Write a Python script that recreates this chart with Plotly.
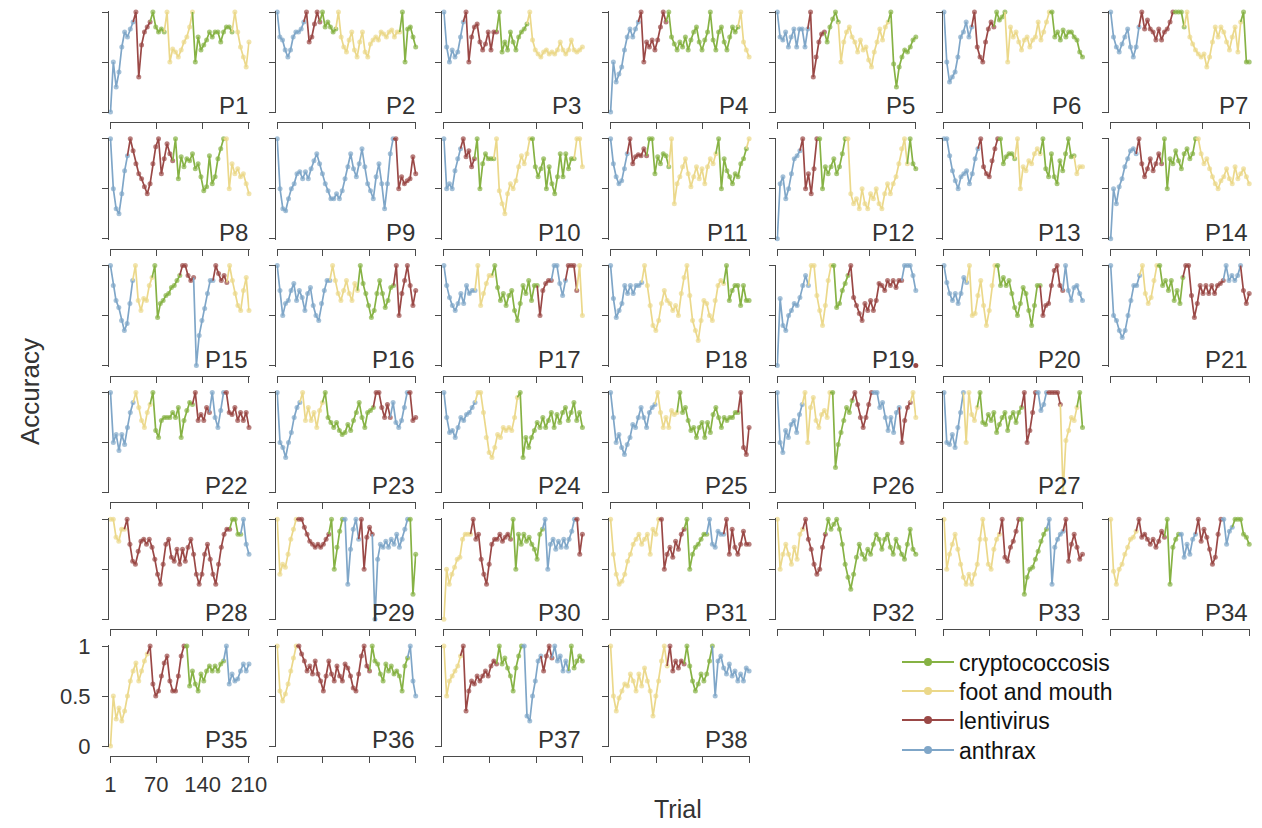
import numpy as np
import plotly.graph_objects as go

W, H = 1262, 828
TRIAL_MIN, TRIAL_MAX = 1, 210
x_tickvals = [1, 70, 140, 210]
x_ticktext = ["1", "70", "140", "210"]
y_tickvals = [0, 0.5, 1]
y_ticktext = ["0", "0.5", "1"]

disease_names = {"C": "cryptococcosis", "F": "foot and mouth", "L": "lentivirus", "A": "anthrax"}
disease_colors = {"C": "#86b244", "F": "#ebd88a", "L": "#9a4846", "A": "#7fa6c8"}
legend_order = ["C", "F", "L", "A"]

# accuracy values in percent, per participant, as consecutive (disease, values) segments
p1 = [("A", [0, 50, 25, 40, 65, 80, 75, 83, 90]), ("L", [100, 35, 67, 80, 85, 90]), ("C", [100, 85, 80, 83, 80]), ("F", [100, 50, 63, 60, 55, 62, 70, 75, 85, 100]), ("C", [50, 75, 62, 67, 72, 80, 75, 80, 80, 70, 80, 85, 85, 80]), ("F", [100, 80, 65, 55, 45, 70])]
p2 = [("A", [100, 75, 72, 62, 55, 62, 75, 80, 80, 83, 90]), ("L", [100, 70, 75, 88, 100, 90]), ("C", [100, 85, 90, 85, 80, 83]), ("F", [100, 75, 65, 60, 72, 80, 62, 55, 70, 80, 60, 55, 68, 72, 75, 72, 80, 78, 75, 80, 82, 75, 80, 80]), ("C", [100, 50, 83, 85, 75, 65])]
p3 = [("A", [100, 65, 50, 62, 55, 60, 75, 90]), ("L", [100, 50, 75, 85, 88, 70, 62, 68, 80, 62, 80, 80]), ("C", [100, 60, 70, 62, 80, 70, 62, 75, 80, 83, 88]), ("F", [100, 72, 62, 58, 55, 60, 62, 58, 60, 58, 62, 70, 62, 58, 62, 72, 62, 60, 62, 65])]
p4 = [("A", [0, 50, 30, 38, 45, 62, 75, 83, 75, 83, 90]), ("L", [100, 50, 70, 65, 72, 62, 72, 85, 100, 90]), ("C", [100, 75, 68, 62, 70, 65, 75, 62, 72, 80, 85, 70, 62, 72, 80, 100, 72, 62, 80, 85, 70, 62, 75, 85, 80, 85]), ("F", [100, 70, 62, 55])]
p5 = [("A", [100, 75, 72, 80, 65, 75, 83, 65, 83, 83, 65, 83]), ("L", [100, 35, 55, 70, 78, 80]), ("C", [70, 85, 93, 100, 90]), ("F", [50, 70, 80, 85, 75, 70, 60, 72, 62, 65, 52, 45, 60, 70, 83, 72, 85, 90]), ("C", [100, 48, 25, 45, 55, 62, 60, 65, 72, 75])]
p6 = [("A", [100, 50, 30, 35, 40, 55, 75, 80, 90, 75, 85]), ("L", [100, 65, 55, 50, 70, 83, 90, 85]), ("C", [100, 92, 95, 100]), ("F", [50, 85, 75, 80, 70, 62, 72, 75, 65, 72, 75, 90, 72, 80, 90, 100]), ("C", [100, 75, 80, 72, 82, 75, 80, 80, 75, 72, 60, 55])]
p7 = [("A", [100, 75, 65, 60, 68, 75, 83, 65, 55, 65, 85]), ("L", [100, 83, 92, 83, 80, 72, 83, 72, 80, 83, 90, 100]), ("C", [100, 100, 100, 85]), ("F", [100, 75, 68, 62, 58, 55, 58, 45, 55, 70, 85, 75, 85, 80, 70, 62, 75, 85, 60, 90]), ("C", [100, 50, 50])]
p8 = [("A", [100, 50, 30, 25, 45, 68, 83]), ("L", [100, 88, 75, 65, 60, 52, 45, 55, 75, 92, 100, 65, 80, 95, 85, 78]), ("C", [100, 60, 82, 72, 80, 78, 85, 70, 75, 62, 48, 52, 83, 55, 62, 80, 90, 100]), ("F", [100, 50, 75, 65, 70, 62, 65, 55, 45])]
p9 = [("A", [100, 50, 30, 28, 40, 50, 55, 65, 67, 60, 67, 60, 70, 78, 85, 75, 65, 55, 48, 40, 40, 45, 40, 48, 60, 72, 85, 70, 62, 75, 90, 72, 55, 48, 40, 62, 75, 55, 30, 55, 85, 100]), ("L", [100, 50, 62, 55, 58, 60, 82, 65])]
p10 = [("A", [100, 50, 55, 50, 68, 80, 90]), ("L", [100, 82, 88, 72, 80]), ("C", [100, 50, 75, 85, 80, 80, 80]), ("F", [100, 48, 35, 25, 45, 55, 50, 58, 72, 83, 75, 85, 100]), ("C", [100, 72, 62, 70, 80, 50, 72, 55, 45, 62, 85, 62, 85, 70, 80, 80]), ("F", [100, 100, 72])]
p11 = [("A", [100, 75, 62, 55, 58, 70, 85]), ("L", [100, 75, 82, 84, 83, 90, 83]), ("C", [100, 100, 65, 82, 75, 85, 83, 72]), ("F", [100, 35, 55, 62, 72, 80, 65, 52, 62, 72, 60, 70, 55, 72, 80, 75, 85]), ("C", [100, 50, 80, 68, 62, 55, 65, 62, 75, 80, 90]), ("F", [100])]
p12 = [("A", [0, 55, 62, 40, 50, 65, 80, 83, 88]), ("L", [100, 50, 65, 45, 70, 100]), ("C", [100, 50, 72, 65, 72, 80, 65, 72, 85, 100]), ("F", [100, 45, 35, 40, 30, 50, 35, 30, 45, 40, 50, 35, 30, 45, 55, 45, 55, 62, 75, 90, 100, 75]), ("C", [100, 75, 70])]
p13 = [("A", [100, 100, 83, 68, 58, 50, 62, 65, 68, 55, 65, 80, 90]), ("L", [100, 72, 65, 62, 78, 90, 100]), ("C", [100, 75, 82, 85, 85, 80]), ("F", [100, 50, 72, 68, 78, 75, 85, 90, 85]), ("C", [100, 70, 62, 85, 62, 55, 78, 68, 85, 100, 82, 83]), ("F", [65, 72, 72])]
p14 = [("A", [0, 50, 35, 52, 60, 72, 80, 88, 90, 85]), ("L", [100, 75, 62, 70, 80, 68, 75, 85, 75]), ("C", [100, 50, 80, 75, 88, 78, 70, 85, 90, 80, 85, 100]), ("F", [100, 85, 75, 80, 70, 62, 55, 50, 58, 62, 70, 60, 55, 72, 60, 65, 70, 62, 55])]
p15 = [("A", [100, 80, 65, 58, 45, 35, 42, 62, 85]), ("F", [100, 65, 55, 67, 65, 80, 88]), ("C", [100, 48, 62, 65, 70, 72, 78, 80, 85, 90]), ("L", [100, 100, 90, 85, 88]), ("A", [0, 30, 45, 57, 72, 85, 85]), ("L", [100, 92, 85, 90, 83]), ("F", [100, 85, 72, 60, 55, 75, 88, 55])]
p16 = [("A", [100, 75, 50, 62, 65, 75, 82, 65, 75, 68, 55, 72, 78, 60, 50, 45, 62, 75, 85, 85]), ("F", [100, 85, 72, 65, 75, 85, 72, 65, 82, 75]), ("C", [100, 82, 72, 60, 48, 55, 72, 85, 72, 58, 65, 78, 80]), ("L", [100, 50, 72, 85, 100, 80, 60, 75])]
p17 = [("A", [100, 80, 68, 60, 55, 62, 72, 62, 80, 72, 75, 75]), ("F", [100, 60, 72, 82, 90, 90]), ("C", [100, 78, 65, 72, 60, 70, 75, 55, 45, 62, 80, 72, 85, 65, 80, 80]), ("L", [50, 75, 82, 85, 85]), ("A", [100, 100, 82, 70, 85]), ("L", [100, 100, 100, 75]), ("F", [100, 50])]
p18 = [("A", [100, 67, 48, 55, 62, 80, 72, 80, 72, 80, 80, 83]), ("F", [100, 80, 60, 40, 35, 45, 62, 75, 65, 62, 55, 60, 50, 72, 88, 100, 70, 45, 35, 25, 45, 65, 62, 50, 45, 65, 80, 85, 82]), ("C", [100, 65, 75, 80, 80, 60, 80, 65, 65])]
p19 = [("A", [0, 67, 40, 35, 50, 55, 62, 60, 68, 80, 90, 80]), ("F", [100, 100, 70, 55, 40, 60, 85, 100]), ("C", [100, 58, 62, 75, 82, 90]), ("L", [100, 68, 60, 52, 45, 62, 55, 65, 55, 65, 82, 80, 75, 85, 80, 85, 78, 85, 85]), ("A", [100, 100, 100, 90, 75])]
p20 = [("A", [100, 83, 72, 65, 72, 62, 72, 88, 83]), ("F", [100, 50, 52, 70, 85, 60, 40, 55, 80, 100]), ("C", [100, 80, 88, 80, 85, 72, 58, 50, 62, 78, 72, 55, 40, 60, 80, 80]), ("L", [50, 60, 62, 80, 95, 100, 80, 75]), ("A", [100, 75, 65, 78, 80, 72, 65])]
p21 = [("A", [100, 50, 45, 35, 28, 35, 50, 65, 80, 80, 90]), ("F", [100, 72, 62, 68, 85, 100]), ("C", [100, 80, 85, 75, 85, 65, 75, 62, 88]), ("L", [100, 100, 70, 48, 62, 80, 72, 80, 72, 80, 72, 80, 82, 85]), ("A", [100, 85, 90, 85, 90, 100]), ("L", [75, 62, 72])]
p22 = [("A", [100, 50, 58, 42, 58, 48, 65, 80, 90]), ("F", [100, 85, 72, 65, 80, 88]), ("C", [100, 62, 55, 72, 75, 75, 75, 80, 75, 85, 55, 72, 82, 90, 88]), ("L", [100, 72, 78, 72, 85, 80]), ("A", [100, 75, 65, 82, 100]), ("L", [100, 80, 78, 85, 72, 80, 72, 80, 65])]
p23 = [("A", [100, 50, 45, 35, 50, 60, 75, 85, 90]), ("F", [100, 72, 85, 72, 80, 65, 82, 90]), ("C", [100, 75, 70, 65, 70, 62, 58, 60, 68, 62, 72, 80, 90, 75, 65, 80, 82, 85]), ("L", [100, 100, 85, 75, 88, 75]), ("A", [90, 70, 65, 72, 85, 100]), ("L", [100, 72, 75])]
p24 = [("A", [100, 75, 60, 62, 55, 65, 75, 72, 78, 80, 85, 90]), ("F", [100, 100, 80, 55, 40, 35, 45, 58, 55, 65, 62, 65, 62, 75, 95]), ("C", [100, 35, 55, 45, 55, 62, 70, 65, 75, 65, 72, 80, 65, 78, 70, 80, 85, 72, 80, 90, 72, 80, 65])]
p25 = [("A", [100, 75, 50, 58, 45, 38, 48, 55, 68, 65, 75, 85, 75, 65, 80, 85, 88]), ("F", [100, 80, 65, 75, 65, 82, 78, 80]), ("C", [100, 80, 85, 72, 62, 65, 55, 65, 70, 55, 70, 60, 78, 85, 75, 65, 75, 72, 75, 75, 80, 80]), ("L", [100, 45, 38, 65])]
p26 = [("A", [100, 50, 40, 62, 55, 68, 72, 60, 78, 88]), ("F", [100, 50, 85, 95, 72, 65, 78, 82, 75, 100]), ("C", [100, 25, 48, 60, 72, 85, 80, 92]), ("L", [100, 88, 75, 65, 75, 88, 100]), ("A", [100, 100, 85, 90, 75, 62, 75, 60, 80, 85]), ("L", [50, 72, 85, 90]), ("F", [100, 75])]
p27 = [("A", [100, 50, 48, 58, 45, 65, 80, 100]), ("F", [50, 100, 78, 72, 85]), ("C", [100, 70, 68, 78, 72, 80, 60, 68, 75, 80, 62, 75, 80, 70, 80, 85]), ("L", [100, 50, 62, 80, 100]), ("A", [100, 82, 88, 100]), ("L", [100, 100, 100, 100, 88]), ("F", [0, 52, 62, 75, 72, 85]), ("C", [100, 65])]
p28 = [("F", [100, 100, 82, 78, 90, 90]), ("L", [100, 75, 58, 55, 68, 78, 80, 75, 80, 72, 60, 45, 35, 55, 75, 80, 62, 58, 70, 55, 70, 58, 72, 80, 65, 45, 35, 45, 65, 75, 60, 45, 35, 55, 72, 85, 90, 90]), ("C", [100, 100, 85, 85]), ("A", [100, 75, 65])]
p29 = [("F", [100, 45, 55, 52, 65, 80, 90, 100]), ("L", [100, 100, 92, 85, 78, 75, 72, 75, 72, 75, 80, 85]), ("C", [100, 50, 72, 88, 100]), ("A", [100, 35, 70, 90, 100, 80]), ("L", [100, 50, 82, 92, 85]), ("A", [0, 60, 75, 72, 78, 72, 80, 75, 85, 72, 80, 90, 100]), ("C", [100, 25, 65])]
p30 = [("F", [0, 50, 35, 45, 52, 60, 62, 80, 85, 85, 85]), ("L", [100, 80, 85, 60, 45, 35, 55, 75, 80, 80, 85, 78, 82, 85, 80]), ("C", [100, 50, 85, 75, 85, 78, 82, 75, 70, 60, 85, 90]), ("A", [100, 50, 75, 80, 70, 78, 72, 80, 72, 80, 88, 100]), ("L", [100, 65, 85])]
p31 = [("F", [100, 65, 45, 35, 38, 45, 58, 65, 75, 80, 85, 75, 80, 85, 65, 90, 85, 100]), ("L", [100, 50, 65, 72, 62, 78, 70, 85, 90]), ("C", [100, 50, 65, 72, 75, 80, 85, 85]), ("A", [100, 75, 72, 88, 85, 85]), ("L", [100, 65, 90, 72, 65, 75, 88, 75, 75])]
p32 = [("F", [100, 50, 65, 75, 65, 55, 72, 60, 85, 90]), ("L", [100, 80, 70, 55, 45, 50, 72, 85]), ("C", [100, 90, 95, 100, 90, 75, 55, 42, 30, 45, 62, 75, 65, 60, 70, 65, 75, 85, 80, 70, 80, 85, 72, 65, 80, 72, 65, 60, 75, 90, 70, 65])]
p33 = [("F", [100, 50, 65, 75, 85, 70, 55, 42, 35, 45, 35, 45, 55, 80, 100, 80, 55, 50, 70, 80, 85]), ("L", [100, 62, 58, 72, 78, 88, 100]), ("C", [100, 25, 42, 50, 52, 60, 68, 78, 85, 90]), ("A", [100, 35, 72, 80, 85, 88]), ("L", [100, 58, 75, 85, 72, 60, 65])]
p34 = [("F", [100, 48, 35, 50, 55, 65, 72, 80, 82, 88]), ("L", [100, 82, 85, 80, 75, 80, 72, 78, 88, 82]), ("C", [100, 35, 72, 80, 85]), ("A", [85, 62, 75, 65, 80, 85]), ("L", [100, 78, 90, 82, 70, 55, 62, 85, 100]), ("A", [100, 75, 88, 92]), ("C", [100, 100, 100, 85, 82, 75])]
p35 = [("F", [0, 50, 27, 38, 25, 35, 50, 65, 75, 83, 65, 75, 85, 92]), ("L", [100, 62, 50, 55, 70, 83, 90, 65, 55, 55, 70, 90, 100]), ("C", [100, 60, 75, 62, 55, 72, 65, 75, 80, 75, 80, 75, 82, 85]), ("A", [100, 62, 72, 65, 67, 75, 82, 75, 82])]
p36 = [("F", [100, 55, 45, 52, 62, 75, 88, 100]), ("L", [100, 92, 85, 75, 80, 72, 85, 72, 65, 55, 70, 85, 72, 65, 80, 70, 65, 82, 78, 70, 58, 55, 72, 90, 100, 80, 75]), ("C", [100, 85, 82, 72, 65, 82, 75, 80, 72, 75, 70, 55, 80, 88]), ("A", [100, 65, 50])]
p37 = [("F", [100, 50, 65, 70, 75, 80, 90]), ("L", [100, 35, 55, 65, 62, 70, 65, 70, 75, 70, 80, 85, 82]), ("C", [100, 82, 88, 78, 70, 55, 78, 90, 100]), ("A", [100, 30, 25, 50, 65, 85, 90]), ("L", [75, 90, 100, 88]), ("A", [100, 85, 90, 75, 85, 75]), ("C", [100, 78, 85, 90, 85])]
p38 = [("F", [100, 50, 35, 48, 55, 62, 60, 72, 65, 55, 72, 60, 78, 65, 55, 30, 50, 65, 85, 100, 80]), ("L", [100, 75, 85, 78, 85, 82]), ("C", [100, 80, 65, 55, 62, 72, 65, 72, 85, 100]), ("A", [50, 85, 90, 78, 72, 82, 70, 75, 65, 72, 65, 78, 75])]
# isolated extra trial drawn for P19: (disease, trial, accuracy %)
p19_extra = ("L", 210, 0)

panels = [p1, p2, p3, p4, p5, p6, p7, p8, p9, p10, p11, p12, p13, p14, p15, p16, p17, p18, p19,
          p20, p21, p22, p23, p24, p25, p26, p27, p28, p29, p30, p31, p32, p33, p34, p35, p36, p37, p38]

# ---------------- layout geometry (page pixels) ----------------
PAGE_OFF = 8.0                      # default body margin of the page holding the figure
FW, FH = W - PAGE_OFF, H - PAGE_OFF


def px(xpix):
    return (xpix - PAGE_OFF) / FW


def py(ypix):
    return 1 - (ypix - PAGE_OFF) / FH


row_sizes = [7, 7, 7, 6, 7, 4]
positions = [(r, c) for r, n in enumerate(row_sizes) for c in range(n)]
COL0, COL_PITCH = 108.0, 166.7
ROW0, ROW_PITCH = 12.0, 126.8
PLOT_H = 100.0
X_L, X_R = 2.5, 141.0
XAXIS_GAP = 10.0
AX = "#4a4a4a"
TXT = "#333333"
FONT = "Liberation Sans, Arial, Helvetica, sans-serif"
LW, MS = 1.7, 5
LEGEND_X = 897.0
LEGEND_Y = [662.0, 691.0, 720.0, 750.0]

fig = go.Figure()
layout = {}
annotations = []

for i, code in enumerate(legend_order):
    lg = "legend" if i == 0 else "legend%d" % (i + 1)
    fig.add_trace(go.Scatter(x=[None], y=[None], mode="lines+markers", name=disease_names[code],
                             line=dict(color=disease_colors[code], width=2),
                             marker=dict(size=8, color=disease_colors[code]),
                             xaxis="x", yaxis="y", showlegend=True, legend=lg))
    layout[lg] = dict(x=px(LEGEND_X), y=py(LEGEND_Y[i]), xanchor="left", yanchor="middle",
                      bgcolor="rgba(0,0,0,0)", borderwidth=0, itemwidth=52,
                      font=dict(size=23, color="#111111", family=FONT))

s = (X_R - X_L) / (TRIAL_MAX - TRIAL_MIN)
for k, segs in enumerate(panels, start=1):
    r, c = positions[k - 1]
    X0 = COL0 + c * COL_PITCH
    Yt = ROW0 + r * ROW_PITCH
    sfx = "" if k == 1 else str(k)
    xa, ya = "x" + sfx, "y" + sfx
    layout["xaxis" + sfx] = dict(
        domain=[px(X0 + X_L - s), px(X0 + X_R + s)], range=[TRIAL_MIN - 1, TRIAL_MAX + 1],
        anchor="free", position=py(Yt + PLOT_H + XAXIS_GAP),
        showline=True, linecolor=AX, linewidth=1, ticks="outside", ticklen=6, tickwidth=1, tickcolor=AX,
        tickmode="array", tickvals=x_tickvals, ticktext=x_ticktext, showticklabels=(k == 35),
        ticklabelstandoff=3, tickfont=dict(size=22, color=TXT, family=FONT),
        showgrid=False, zeroline=False, fixedrange=True, automargin=False)
    layout["yaxis" + sfx] = dict(
        domain=[py(Yt + PLOT_H + 1), py(Yt - 1)], range=[-0.01, 1.01],
        anchor="free", position=px(X0),
        showline=True, linecolor=AX, linewidth=1, ticks="outside", ticklen=6, tickwidth=1, tickcolor=AX,
        tickmode="array", tickvals=y_tickvals, ticktext=y_ticktext, showticklabels=(k == 35),
        ticklabelstandoff=7, tickfont=dict(size=22, color=TXT, family=FONT),
        showgrid=False, zeroline=False, fixedrange=True, automargin=False)

    vals = [v for _, seg in segs for v in seg]
    xs = np.linspace(TRIAL_MIN, TRIAL_MAX, len(vals))
    ys = np.array(vals, dtype=float) / 100.0
    start = 0
    for code, seg in segs:
        a, b = start, start + len(seg)
        lo = a - 1 if a > 0 else a
        sizes = ([0] if a > 0 else []) + [MS] * len(seg)
        fig.add_trace(go.Scatter(x=xs[lo:b], y=ys[lo:b], mode="lines+markers",
                                 line=dict(color=disease_colors[code], width=LW),
                                 marker=dict(size=sizes, color=disease_colors[code], line=dict(width=0)),
                                 xaxis=xa, yaxis=ya, showlegend=False, cliponaxis=False, hoverinfo="skip"))
        start = b
    if k == 19:
        code, tx, ty = p19_extra
        fig.add_trace(go.Scatter(x=[tx], y=[ty / 100.0], mode="markers",
                                 marker=dict(size=MS, color=disease_colors[code]),
                                 xaxis=xa, yaxis=ya, showlegend=False, cliponaxis=False, hoverinfo="skip"))
    annotations.append(dict(text="P%d" % k, xref=xa, yref=ya, x=TRIAL_MAX, y=0,
                            xanchor="right", yanchor="bottom", xshift=1, yshift=-9, showarrow=False,
                            font=dict(size=24, color=TXT, family=FONT)))

annotations.append(dict(text="Accuracy", xref="paper", yref="paper", x=px(30), y=py(392),
                        xanchor="center", yanchor="middle", textangle=-90, showarrow=False,
                        font=dict(size=26, color=TXT, family=FONT)))
annotations.append(dict(text="Trial", xref="paper", yref="paper", x=px(678), y=py(809),
                        xanchor="center", yanchor="middle", showarrow=False, borderpad=0,
                        font=dict(size=25, color=TXT, family=FONT)))

fig.update_layout(
    width=int(FW), height=int(FH), margin=dict(l=0, r=0, t=0, b=0, pad=0, autoexpand=False),
    plot_bgcolor="white", paper_bgcolor="white",
    font=dict(family=FONT, color=TXT),
    showlegend=True,
    annotations=annotations,
    **layout,
)

fig.write_html("out.html")
